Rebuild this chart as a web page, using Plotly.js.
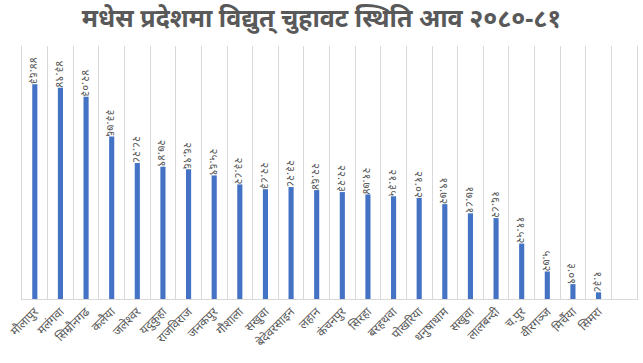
<!DOCTYPE html>
<html>
<head>
<meta charset="utf-8">
<script src="https://cdn.plot.ly/plotly-3.0.1.min.js"></script>
<style>html,body{margin:0;padding:0;background:#fff}#chart{width:643px;height:363px}</style>
</head>
<body>
<div id="chart"></div>
<script>
const categories = ["मौलापुर","मलंगवा","सिम्रौनगढ","कलैया","जलेश्वर","यदुकुहा","राजविराज","जनकपुर","गौशाला","सखुवा","बेदेवरसाइन","लहान","कंचनपुर","सिरहा","बरहथवा","पोखरिया","धनुषाधाम","सखुवा","लालबन्दी","च.पुर","वीरगञ्ज","मिर्चैया","सिमरा"];
const values = [44.63, 43.94, 42.03, 33.76, 28.28, 27.49, 26.96, 25.69, 23.82, 22.83, 23.28, 22.64, 22.23, 21.74, 21.35, 21.02, 19.72, 17.81, 16.82, 11.52, 5.72, 3.09, 1.38];
const titleText = "मधेस प्रदेशमा विद्युत् चुहावट स्थिति आव २०८०-८१";

const devDigits = "०१२३४५६७८९";
const toNepali = s => s.replace(/[0-9]/g, d => devDigits[+d]);
const keys = categories.map((c, i) => String(i));
const labels = values.map(v => toNepali(v.toFixed(2)));

const font = "'Noto Sans', 'Noto Sans Devanagari', sans-serif";

Plotly.newPlot('chart', [{
  type: 'bar',
  x: keys,
  y: values,
  marker: {color: '#4472C4'},
  text: labels,
  textposition: 'outside',
  textangle: 90,
  constraintext: 'none',
  cliponaxis: false,
  textfont: {family: font, size: 11.5, color: '#595959'},
  hoverinfo: 'skip'
}], {
  width: 643, height: 363,
  margin: {l: 22, r: 6, t: 46, b: 64},
  paper_bgcolor: '#fff', plot_bgcolor: '#fff',
  title: {text: '<b>' + titleText + '</b>', font: {family: font, size: 25, color: '#595959'}, x: 0.5, xanchor: 'center', y: 0.95, yanchor: 'middle'},
  bargap: 0.8,
  showlegend: false,
  xaxis: {
    type: 'category',
    tickvals: keys, ticktext: categories,
    range: [-0.5, 23.5],
    tickson: 'boundaries',
    showgrid: true, gridcolor: '#d9d9d9', gridwidth: 1,
    showline: true, linecolor: '#d9d9d9', linewidth: 1,
    ticks: '', tickangle: -45,
    tickfont: {family: font, size: 12, color: '#595959'},
    fixedrange: true
  },
  yaxis: {
    range: [0, 52.6],
    showgrid: false, zeroline: false,
    showticklabels: false, ticks: '',
    showline: true, mirror: true, linecolor: '#d9d9d9', linewidth: 1,
    fixedrange: true
  }
}, {staticPlot: true});
</script>
</body>
</html>
